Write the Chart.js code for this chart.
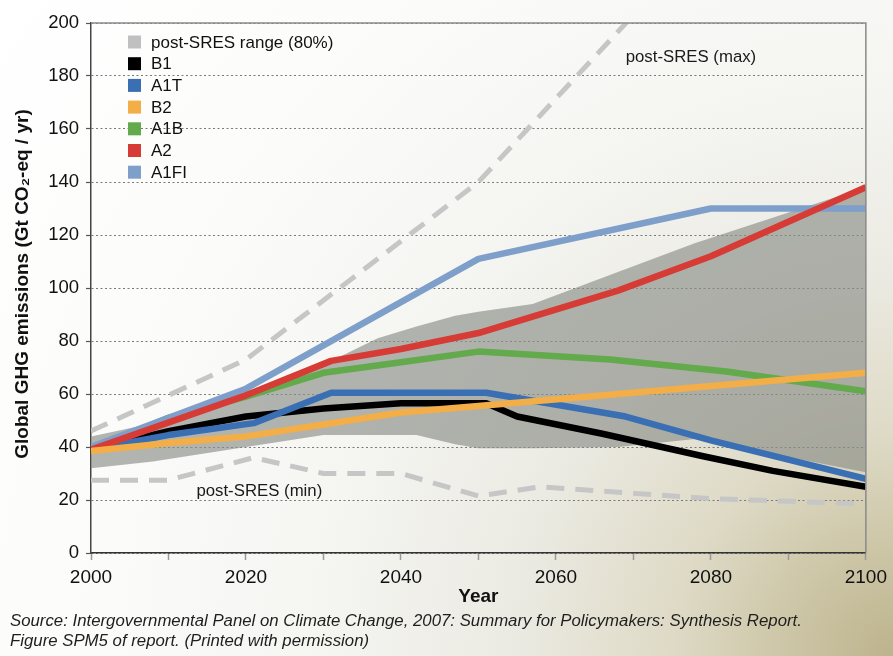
<!DOCTYPE html>
<html>
<head>
<meta charset="utf-8">
<script src="https://cdn.jsdelivr.net/npm/chart.js@4.4.0/dist/chart.umd.min.js"></script>
<style>
  html, body { margin: 0; padding: 0; }
  body {
    width: 893px; height: 656px; overflow: hidden;
    background: radial-gradient(circle at 100% 100%, #bdb38d 0%, #cdc6a7 10%, #dedac6 20%, #ebeae2 34%, #f5f5f2 52%, #fcfcfb 75%, #ffffff 100%);
  }
  canvas { display: block; }
</style>
</head>
<body>
<canvas id="myChart" width="893" height="656"></canvas>
<script>
// values (Gt CO2-eq / yr)
const bandYears = [2000, 2008, 2020, 2030, 2037, 2042, 2047, 2050, 2057, 2068, 2078, 2100];
const bandUpper = [44, 49, 58, 71, 81, 85.5, 89.5, 91, 94, 106, 117, 138];
const bandLower = [32, 34.5, 40, 44.5, 44.5, 44.5, 41, 39.5, 39.5, 40, 43, 30.5];

const maxYears = [2000, 2020, 2050, 2070];
const maxValues = [46, 73, 140, 203];
const minYears = [2000, 2010, 2021, 2030, 2040, 2050, 2058, 2070, 2080, 2100];
const minValues = [27.5, 27.5, 36, 30, 30, 21.5, 25, 22.5, 20.5, 18.5];

const b1Years = [2000, 2010, 2020, 2030, 2040, 2051, 2055, 2066, 2079, 2088, 2100];
const b1Values = [39, 46, 51.5, 54.5, 56.5, 56.5, 51.5, 45, 36.5, 31, 25];
const a1tYears = [2000, 2010, 2021, 2031, 2051, 2069, 2080, 2100];
const a1tValues = [39, 44.5, 49, 60.5, 60.5, 51.5, 42.5, 28];
const b2Years = [2000, 2010, 2020, 2030, 2040, 2050, 2100];
const b2Values = [38.5, 41.5, 44, 48.5, 53, 55.5, 68];
const a1bYears = [2000, 2010, 2020, 2030, 2040, 2050, 2067, 2082, 2100];
const a1bValues = [39, 51, 59, 68, 72, 76, 73, 68.5, 61];
const a2Years = [2000, 2020, 2031, 2040, 2050, 2068, 2080, 2100];
const a2Values = [39, 59.5, 72.5, 77, 83, 99, 112, 138];
const a1fiYears = [2000, 2020, 2050, 2080, 2100];
const a1fiValues = [40, 62, 111, 130, 130];

const yTicks = [0, 20, 40, 60, 80, 100, 120, 140, 160, 180, 200];
const xLabels = [2000, 2020, 2040, 2060, 2080, 2100];
const legendOrder = ['post-SRES range (80%)', 'B1', 'A1T', 'B2', 'A1B', 'A2', 'A1FI'];

const pts = (xs, ys) => xs.map((x, i) => ({x: x, y: ys[i]}));

const line = (label, xs, ys, color, order) => ({
  label: label,
  data: pts(xs, ys),
  borderColor: color,
  backgroundColor: color,
  borderWidth: 6.5,
  borderJoinStyle: 'round',
  pointRadius: 0,
  tension: 0,
  fill: false,
  order: order
});

const dashed = (label, xs, ys) => ({
  label: label,
  data: pts(xs, ys),
  borderColor: '#c6c6c6',
  borderWidth: 5,
  borderDash: [18, 11],
  pointRadius: 0,
  fill: false,
  clip: 0,
  order: 9
});

const data = {
  datasets: [
    {
      label: 'lower',
      data: pts(bandYears, bandLower),
      borderWidth: 0,
      pointRadius: 0,
      fill: false,
      order: 11
    },
    {
      label: 'post-SRES range (80%)',
      data: pts(bandYears, bandUpper),
      borderWidth: 0,
      pointRadius: 0,
      backgroundColor: 'rgba(140,142,136,0.66)',
      legendColor: '#c0c0c0',
      fill: {target: 0},
      order: 10
    },
    dashed('post-SRES (max)', maxYears, maxValues),
    dashed('post-SRES (min)', minYears, minValues),
    line('B1', b1Years, b1Values, '#000000', 6),
    line('A1T', a1tYears, a1tValues, '#3a6fb4', 5),
    line('A1B', a1bYears, a1bValues, '#62aa4b', 4),
    line('A1FI', a1fiYears, a1fiValues, '#7f9fcb', 3),
    line('A2', a2Years, a2Values, '#d63c35', 2),
    line('B2', b2Years, b2Values, '#f3ae47', 1)
  ]
};

const extras = {
  id: 'extras',
  afterDatasetsDraw(chart) {
    const {ctx, chartArea: a, scales: {x, y}} = chart;
    ctx.save();
    // top and right frame
    ctx.strokeStyle = '#8a8a8a';
    ctx.lineWidth = 1.5;
    ctx.beginPath();
    ctx.moveTo(a.left, a.top);
    ctx.lineTo(a.right, a.top);
    ctx.lineTo(a.right, a.bottom);
    ctx.stroke();

    // legend, top left inside the plot
    ctx.font = '17px "Liberation Sans", Arial, sans-serif';
    ctx.textBaseline = 'middle';
    ctx.textAlign = 'left';
    legendOrder.forEach((lab, i) => {
      const ds = chart.data.datasets.find(d => d.label === lab);
      const cy = a.top + 19 + i * 21.7;
      ctx.fillStyle = ds.legendColor || ds.borderColor;
      ctx.fillRect(a.left + 37, cy - 6.5, 13, 13);
      ctx.fillStyle = '#111';
      ctx.fillText(lab, a.left + 60, cy + 1);
    });

    // annotations for the dashed lines
    ctx.font = '16.8px "Liberation Sans", Arial, sans-serif';
    ctx.fillStyle = '#1a1a1a';
    ctx.fillText('post-SRES (max)', x.getPixelForValue(2069), y.getPixelForValue(187));
    ctx.fillText('post-SRES (min)', x.getPixelForValue(2013.6), y.getPixelForValue(23.4));
    ctx.restore();
  },
  afterDraw(chart) {
    const {ctx, chartArea: a} = chart;
    ctx.save();
    ctx.fillStyle = '#111';
    ctx.textBaseline = 'middle';
    ctx.textAlign = 'center';
    ctx.font = 'bold 19px "Liberation Sans", Arial, sans-serif';
    ctx.fillText('Year', (a.left + a.right) / 2, 597);
    ctx.save();
    ctx.translate(23, 284);
    ctx.rotate(-Math.PI / 2);
    ctx.font = 'bold 19px "Liberation Sans", Arial, sans-serif';
    ctx.fillText('Global GHG emissions (Gt CO\u2082-eq / yr)', 0, 0);
    ctx.restore();
    ctx.textAlign = 'left';
    ctx.fillStyle = '#1e1e1e';
    ctx.font = 'italic 16.8px "Liberation Sans", Arial, sans-serif';
    ctx.fillText('Source: Intergovernmental Panel on Climate Change, 2007: Summary for Policymakers: Synthesis Report.', 10, 621);
    ctx.fillText('Figure SPM5 of report. (Printed with permission)', 10, 641);
    ctx.restore();
  }
};

const config = {
  type: 'line',
  data: data,
  options: {
    responsive: false,
    animation: false,
    devicePixelRatio: 1,
    layout: {padding: {top: 23, right: 26, left: 0, bottom: 0}},
    plugins: {
      legend: {display: false},
      tooltip: {enabled: false}
    },
    scales: {
      x: {
        type: 'linear',
        min: 2000,
        max: 2100,
        afterFit: s => { s.height = 103; },
        grid: {
          drawOnChartArea: false,
          drawTicks: true,
          tickLength: 7,
          tickColor: '#9a9a9a',
          tickWidth: 1.5
        },
        border: {color: '#333', width: 1.5},
        ticks: {
          stepSize: 10,
          autoSkip: false,
          maxRotation: 0,
          padding: 6,
          color: '#111',
          font: {size: 19, family: '"Liberation Sans", Arial, sans-serif'},
          callback: v => xLabels.includes(v) ? String(v) : ''
        }
      },
      y: {
        min: 0,
        max: 200,
        afterFit: s => { s.width = 91; },
        afterBuildTicks: s => { s.ticks = yTicks.map(v => ({value: v})); },
        grid: {
          color: '#7a7a7a',
          lineWidth: 1,
          tickLength: 5,
          tickColor: '#555',
          tickBorderDash: [],
          tickWidth: 1.2
        },
        border: {color: '#444', width: 1.5, dash: [2, 2.5]},
        ticks: {
          padding: 7,
          color: '#111',
          font: {size: 18.5, family: '"Liberation Sans", Arial, sans-serif'},
          callback: v => String(v)
        }
      }
    }
  },
  plugins: [extras]
};

const myChart = new Chart(document.getElementById('myChart'), config);
</script>
</body>
</html>
